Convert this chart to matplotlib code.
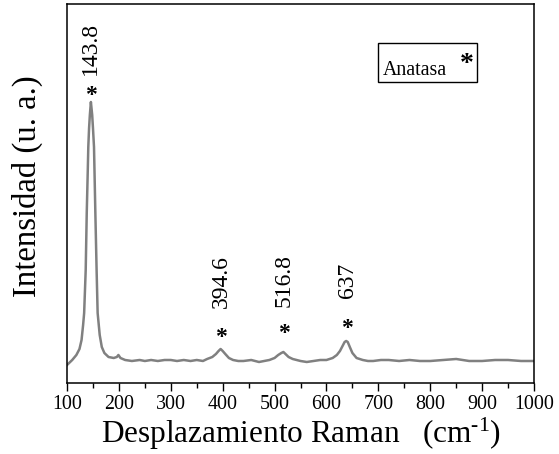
import matplotlib
matplotlib.use("Agg")
import matplotlib.pyplot as plt
from matplotlib.patches import Rectangle
from matplotlib.ticker import MultipleLocator

plt.rcParams['font.family'] = ['Liberation Serif', 'DejaVu Serif']
plt.rcParams['mathtext.fontset'] = 'custom'
plt.rcParams['mathtext.rm'] = 'Liberation Serif'
plt.rcParams['mathtext.it'] = 'Liberation Serif:italic'

# Raman shift (cm^-1) and intensity (a.u.)
shift = [100, 110, 118, 124, 128, 131, 133, 136, 138, 140, 141, 142.5, 144, 146,
         148.5, 150, 152, 154.6, 157, 159, 163, 167, 172, 180, 190, 196, 199, 203,
         212, 225, 240, 250, 262, 275, 288, 300, 312, 325, 338, 350, 362, 370, 380,
         387, 392, 396, 400, 405, 412, 420, 430, 440, 455, 470, 480, 490, 500, 507,
         513, 517, 521, 527, 535, 550, 562, 575, 588, 600, 612, 620, 626, 631, 635,
         638, 641, 645, 650, 658, 670, 680, 690, 705, 720, 740, 760, 780, 800, 825,
         850, 875, 900, 925, 950, 975, 1000]
intensity = [18, 23, 28, 34, 43, 58, 70, 113, 170, 213, 236, 255, 268, 281,
             268, 255, 236, 170, 113, 70, 48, 36, 30, 26, 25, 26, 28, 25,
             23, 22, 23, 22, 23, 22, 23, 23, 22, 23, 22, 23, 22, 24, 26,
             29, 32, 34, 32, 29, 25, 23, 22, 22, 23, 21, 22, 23, 25, 28,
             30, 31, 29, 26, 24, 22, 21, 22, 23, 23, 25, 28, 32, 37, 41,
             42, 41, 36, 30, 25, 23, 22, 22, 23, 23, 22, 23, 22, 22, 23,
             24, 22, 22, 23, 23, 22, 22]

# peak annotations
peak_labels = ["143.8", "394.6", "516.8", "637"]
label_x = [145.5, 397.5, 518.5, 640.5]
label_y = [308, 75, 76, 85]
star_x = [146.8, 396.8, 519, 638.8]
star_y = [282, 39.5, 43.5, 48.5]

fig = plt.figure(figsize=(5.59, 4.54), dpi=100)
ax = fig.add_axes([0.1199, 0.1564, 0.8354, 0.8348])

ax.plot(shift, intensity, color='#808080', lw=1.8)

for x, y, lab in zip(label_x, label_y, peak_labels):
    ax.text(x, y, lab, rotation=90, ha='center', va='bottom', fontsize=17)
for x, y in zip(star_x, star_y):
    ax.text(x, y, "*", ha='center', va='baseline', fontsize=17, fontweight='bold')

# legend box
ax.add_patch(Rectangle((0.666, 0.794), 0.212, 0.103, transform=ax.transAxes,
                       fill=False, ec='black', lw=1.0))
ax.text(0.6766, 0.8127, "Anatasa", transform=ax.transAxes, fontsize=14.3,
        ha='left', va='baseline')
ax.text(0.8565, 0.822, "*", transform=ax.transAxes, fontsize=20,
        fontweight='bold', ha='center', va='baseline')

ax.set_xlim(100, 1000)
ax.set_ylim(0, 379)
ax.xaxis.set_major_locator(MultipleLocator(100))
ax.xaxis.set_minor_locator(MultipleLocator(50))
ax.tick_params(axis='x', which='major', direction='out', length=6, width=1,
               labelsize=14.4, pad=3)
ax.tick_params(axis='x', which='minor', direction='out', length=3.5, width=1)
ax.set_yticks([])
for s in ax.spines.values():
    s.set_linewidth(1.1)

fig.text(301.5 / 559, 1 - 443 / 454, "Desplazamiento Raman   (cm$^{\\mathregular{\u20101}}$)",
         fontsize=22.5, ha='center', va='baseline')
fig.text(27 / 559, 1 - 186 / 454, "Intensidad (u. a.)", fontsize=23.6,
         rotation=90, ha='center', va='center')

fig.savefig("out.png", dpi=100)
